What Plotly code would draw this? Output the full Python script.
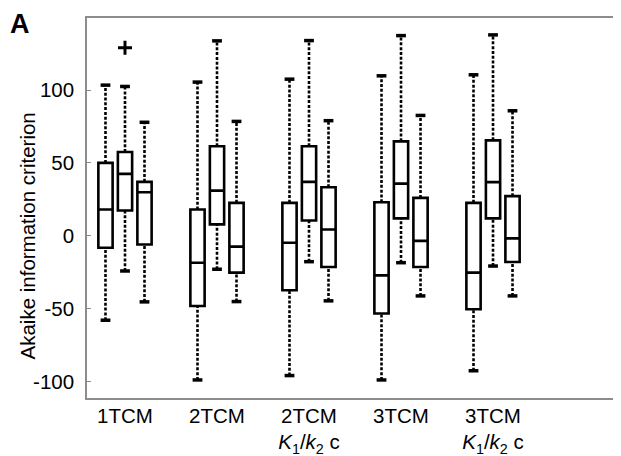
import plotly.graph_objects as go

# ---- data ----
groups = [
    "1TCM",
    "2TCM",
    "2TCM<br><i>K</i><sub>1</sub>/<i>k</i><sub>2</sub> c",
    "3TCM",
    "3TCM<br><i>K</i><sub>1</sub>/<i>k</i><sub>2</sub> c",
]

s1_upper = [103.4, 105.5, 107.5, 109.8, 110.5]
s1_q3 = [50.0, 18.0, 22.6, 23.0, 22.6]
s1_median = [18.0, -18.5, -4.8, -27.2, -25.3]
s1_q1 = [-8.2, -48.2, -37.4, -53.4, -50.5]
s1_lower = [-58.0, -99.0, -96.0, -99.0, -92.7]

s2_upper = [102.5, 133.8, 134.0, 137.4, 137.9]
s2_q3 = [57.5, 61.4, 61.4, 64.8, 65.5]
s2_median = [42.5, 31.0, 37.0, 35.8, 36.8]
s2_q1 = [17.3, 7.8, 10.5, 11.9, 11.9]
s2_lower = [-24.2, -23.0, -17.8, -18.5, -20.8]

s3_upper = [77.9, 78.5, 79.0, 82.6, 85.8]
s3_q3 = [37.0, 22.6, 33.3, 26.0, 27.2]
s3_median = [29.9, -7.5, 4.3, -3.5, -1.8]
s3_q1 = [-6.0, -25.3, -21.5, -21.5, -18.0]
s3_lower = [-45.4, -45.2, -44.7, -41.3, -41.3]

outlier_group = [0]
outlier_series = [1]
outlier_value = [129.0]

y_ticks = [-100, -50, 0, 50, 100]

# ---- styling / layout ----
series = [
    (s1_lower, s1_q1, s1_median, s1_q3, s1_upper),
    (s2_lower, s2_q1, s2_median, s2_q3, s2_upper),
    (s3_lower, s3_q1, s3_median, s3_q3, s3_upper),
]
offsets = [-0.212, 0.0, 0.212]
box_width = 0.155
FONT = "Liberation Sans, Arial, sans-serif"
FS = 20.5
AXIS_GRAY = "#8c8c8c"

fig = go.Figure()
centers = list(range(1, len(groups) + 1))

for j, (lo, q1, med, q3, up) in enumerate(series):
    xs = [c + offsets[j] for c in centers]
    # dotted whiskers
    wx, wy = [], []
    for x, a, b, c, d in zip(xs, lo, q1, q3, up):
        wx += [x, x, None, x, x, None]
        wy += [a, b, None, c, d, None]
    fig.add_trace(go.Scatter(x=wx, y=wy, mode="lines",
                             line=dict(color="black", width=2.6, dash="3px,1.8px"),
                             hoverinfo="skip", showlegend=False))
    # whisker caps
    fig.add_trace(go.Scatter(x=xs + xs, y=list(lo) + list(up), mode="markers",
                             marker=dict(symbol="line-ew", size=7,
                                         line=dict(color="black", width=3.5)),
                             hoverinfo="skip", showlegend=False))
    # boxes
    fig.add_trace(go.Box(x=xs, q1=q1, median=med, q3=q3,
                         lowerfence=q1, upperfence=q3,
                         width=box_width, whiskerwidth=0,
                         fillcolor="white",
                         line=dict(color="black", width=2.6),
                         boxpoints=False, hoverinfo="skip", showlegend=False))

# outliers
ox = [centers[g] + offsets[s] for g, s in zip(outlier_group, outlier_series)]
fig.add_trace(go.Scatter(x=ox, y=outlier_value, mode="markers",
                         marker=dict(symbol="cross-thin", size=10,
                                     line=dict(color="black", width=3)),
                         hoverinfo="skip", showlegend=False))

plot_w = 621 - 79
plot_h = 456 - 10 - 66

fig.update_layout(
    width=621, height=456,
    margin=dict(l=79, r=0, t=10, b=66),
    paper_bgcolor="white", plot_bgcolor="white",
    font=dict(family=FONT, size=FS, color="black"),
    showlegend=False,
    xaxis=dict(range=[0.587, 6.478], tickmode="array", tickvals=centers,
               ticktext=groups, ticks="", showgrid=False, zeroline=False,
               showline=True, linecolor=AXIS_GRAY, linewidth=2, mirror=True,
               ticklabelstandoff=-2,
               tickfont=dict(family=FONT, size=FS, color="black")),
    yaxis=dict(range=[-111.4, 149.5], tickmode="array", tickvals=y_ticks,
               ticktext=[str(v) for v in y_ticks],
               ticks="inside", ticklen=4, tickwidth=1, tickcolor=AXIS_GRAY,
               showgrid=False, zeroline=False,
               showline=True, linecolor=AXIS_GRAY, linewidth=1.5, mirror=False,
               ticklabelstandoff=7,
               tickfont=dict(family=FONT, size=FS, color="black")),
    annotations=[
        dict(text="<b>A</b>", xref="paper", yref="paper",
             x=(1 - 79) / plot_w, y=1 + 10 / plot_h,
             xanchor="left", yanchor="top", showarrow=False, borderpad=0,
             font=dict(family=FONT, size=27, color="black")),
        dict(text="Akaike information criterion", xref="paper", yref="paper",
             x=(19 - 79) / plot_w, y=(390 - 228.5) / plot_h,
             xanchor="center", yanchor="middle", textangle=-90, showarrow=False,
             font=dict(family=FONT, size=FS, color="black")),
    ],
)

fig.write_html("out.html")
